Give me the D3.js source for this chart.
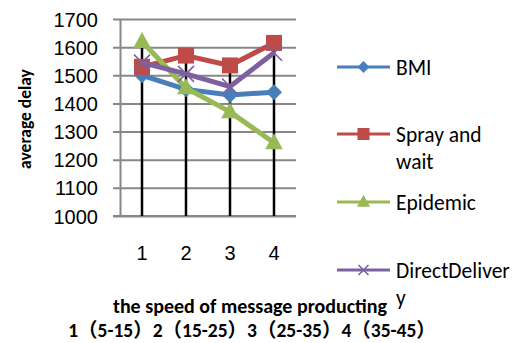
<!DOCTYPE html>
<html>
<head>
<meta charset="utf-8">
<script src="https://cdn.jsdelivr.net/npm/d3@7"></script>
<style>
  html, body { margin: 0; padding: 0; background: #fff; }
  svg { display: block; font-family: Carlito, "Liberation Sans", "Noto Sans CJK SC", sans-serif; }
</style>
</head>
<body>
<svg id="chart" width="512" height="343"></svg>
<script>
// Categories on the x axis (speed of message producing)
const categories = ["1", "2", "3", "4"];
// Average delay per routing protocol
const bmi = [1500, 1450, 1430, 1440];
const sprayAndWait = [1530, 1570, 1535, 1615];
const epidemic = [1620, 1455, 1370, 1260];
const directDelivery = [1545, 1505, 1460, 1580];
const yTicks = [1000, 1100, 1200, 1300, 1400, 1500, 1600, 1700];
const seriesNames = ["BMI", "Spray and wait", "Epidemic", "DirectDelivery"];

const series = [
  { name: seriesNames[0], values: bmi, color: "#4A7EBB", marker: "diamond", legendLines: ["BMI"] },
  { name: seriesNames[1], values: sprayAndWait, color: "#BE4B48", marker: "square", legendLines: ["Spray and", "wait"] },
  { name: seriesNames[2], values: epidemic, color: "#98B954", marker: "triangle", legendLines: ["Epidemic"] },
  { name: seriesNames[3], values: directDelivery, color: "#7D60A0", marker: "cross", legendLines: ["DirectDeliver", "y"] }
];

const svg = d3.select("#chart");
const plot = { left: 120, right: 296, top: 19, bottom: 216 };

const x = d3.scaleBand().domain(categories).range([plot.left, plot.right]);
const y = d3.scaleLinear().domain([1000, 1700]).range([plot.bottom, plot.top]);
const cx = c => x(c) + x.bandwidth() / 2;

// Horizontal gridlines with small outside ticks
const yAxis = d3.axisLeft(y).tickValues(yTicks).tickFormat(d3.format("d"))
  .tickSize(-(plot.right - plot.left)).tickSizeOuter(0);
const gy = svg.append("g").attr("transform", `translate(${plot.left},0)`).call(yAxis);
gy.select(".domain").attr("stroke", "#878787").attr("stroke-width", 2);
gy.selectAll(".tick line").attr("stroke", "#878787").attr("stroke-width", 2).attr("x1", -7);
gy.selectAll(".tick text").attr("font-size", 20).attr("fill", "#000").attr("dy", "0.35em").attr("x", -22);

// Category axis
const xAxis = d3.axisBottom(x).tickSize(0).tickPadding(30);
const gx = svg.append("g").attr("transform", `translate(0,${plot.bottom})`).call(xAxis);
gx.select(".domain").remove();
gx.selectAll(".tick text").attr("font-size", 20).attr("fill", "#000");
svg.append("line").attr("x1", plot.left - 7).attr("x2", plot.right)
  .attr("y1", plot.bottom).attr("y2", plot.bottom)
  .attr("stroke", "#878787").attr("stroke-width", 2);

// Drop lines from the highest point of each category
categories.forEach((c, i) => {
  const top = d3.max(series, s => s.values[i]);
  svg.append("line")
    .attr("x1", cx(c)).attr("x2", cx(c))
    .attr("y1", y(1000)).attr("y2", y(top))
    .attr("stroke", "#000").attr("stroke-width", 2.5);
});

function drawMarker(g, type, px, py, size, color) {
  if (type === "diamond") {
    g.append("path").attr("d", `M${px},${py - size}L${px + size},${py}L${px},${py + size}L${px - size},${py}Z`).attr("fill", color);
  } else if (type === "square") {
    g.append("rect").attr("x", px - size).attr("y", py - size).attr("width", size * 2).attr("height", size * 2).attr("fill", color);
  } else if (type === "triangle") {
    g.append("path").attr("d", `M${px},${py - size * 1.2}L${px + size * 1.1},${py + size * 0.8}L${px - size * 1.1},${py + size * 0.8}Z`).attr("fill", color);
  } else if (type === "cross") {
    g.append("path").attr("d", `M${px - size},${py - size}L${px + size},${py + size}M${px - size},${py + size}L${px + size},${py - size}`)
      .attr("stroke", color).attr("stroke-width", 1.6);
  }
}

const line = d3.line().x((d, i) => cx(categories[i])).y(d => y(d));
series.forEach(s => {
  const g = svg.append("g");
  g.append("path").datum(s.values).attr("d", line)
    .attr("fill", "none").attr("stroke", s.color).attr("stroke-width", 5).attr("stroke-linejoin", "round");
  s.values.forEach((v, i) => drawMarker(g, s.marker, cx(categories[i]), y(v), 8, s.color));
});

// Legend
const legendY = [67, 134, 202, 270];
series.forEach((s, i) => {
  const g = svg.append("g");
  const ly = legendY[i];
  g.append("line").attr("x1", 337).attr("x2", 390).attr("y1", ly).attr("y2", ly)
    .attr("stroke", s.color).attr("stroke-width", 3);
  drawMarker(g, s.marker, 363.5, ly, s.marker === "cross" ? 5 : 6, s.color);
  s.legendLines.forEach((t, k) => {
    g.append("text").attr("x", 396).attr("y", ly + k * 27).attr("dy", "0.35em")
      .attr("font-size", 21.5).attr("fill", "#000").text(t);
  });
});

// Axis titles
svg.append("text").attr("transform", `translate(31,119) rotate(-90)`)
  .attr("text-anchor", "middle").attr("font-size", 17.5).attr("font-weight", "bold").text("average delay");
svg.append("text").attr("x", 250).attr("y", 313).attr("text-anchor", "middle")
  .attr("font-size", 20).attr("font-weight", "bold").text("the speed of message producting");
svg.append("text").attr("x", 252).attr("y", 337).attr("text-anchor", "middle")
  .attr("font-size", 19.5).attr("font-weight", "bold").text("1（5-15）2（15-25）3（25-35）4（35-45）");
</script>
</body>
</html>
